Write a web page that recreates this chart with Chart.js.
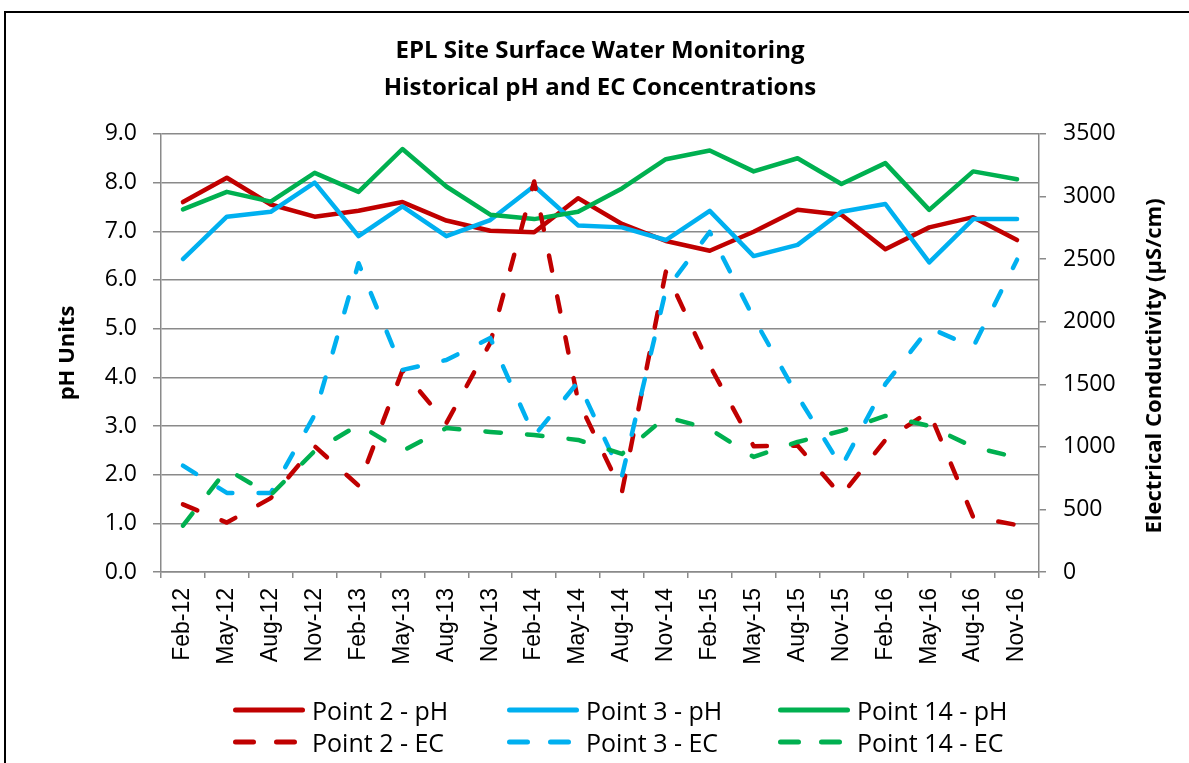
<!DOCTYPE html>
<html>
<head>
<meta charset="utf-8">
<script src="https://cdn.jsdelivr.net/npm/chart.js@4.4.1/dist/chart.umd.min.js"></script>
<style>
  html, body { margin: 0; padding: 0; background: #fff; }
  #wrap { position: relative; width: 1189px; height: 763px; overflow: hidden; }
  #frame { position: absolute; left: 4px; top: 11px; width: 1300px; height: 900px; border: 2px solid #000; box-sizing: border-box; }
  #box { position: absolute; left: 0; top: 0; width: 1189px; height: 763px; }
  .lg { position: absolute; display: flex; align-items: center; height: 30px; font-family: 'Open Sans', sans-serif; font-size: 25px; color: #000; white-space: nowrap; }
  .lg svg { margin-right: 7px; }
</style>
</head>
<body>
<div id="wrap">
  <div id="frame"></div>
  <div id="box"><canvas id="chart"></canvas></div>
  <div id="legend"></div>
</div>
<script>
const titleLines = ['EPL Site Surface Water Monitoring', 'Historical pH and EC Concentrations'];
const leftTitle = 'pH Units';
const rightTitle = 'Electrical Conductivity (\u00B5S/cm)';

const months = ['Feb-12', 'May-12', 'Aug-12', 'Nov-12', 'Feb-13', 'May-13', 'Aug-13', 'Nov-13', 'Feb-14', 'May-14',
                'Aug-14', 'Nov-14', 'Feb-15', 'May-15', 'Aug-15', 'Nov-15', 'Feb-16', 'May-16', 'Aug-16', 'Nov-16'];

// pH (left axis)
const point2pH  = [7.60, 8.10, 7.55, 7.30, 7.42, 7.60, 7.22, 7.01, 6.98, 7.68, 7.15, 6.80, 6.60, 6.99, 7.44, 7.34, 6.63, 7.08, 7.29, 6.82];
const point3pH  = [6.43, 7.30, 7.40, 8.00, 6.90, 7.51, 6.90, 7.23, 7.93, 7.12, 7.08, 6.82, 7.42, 6.49, 6.72, 7.40, 7.56, 6.36, 7.25, 7.25];
const point14pH = [7.45, 7.81, 7.61, 8.20, 7.81, 8.69, 7.92, 7.34, 7.25, 7.40, 7.88, 8.48, 8.66, 8.23, 8.50, 7.97, 8.40, 7.44, 8.23, 8.07];

// EC in uS/cm (right axis)
const point2EC  = [540, 395, 590, 1005, 690, 1610, 1190, 1830, 3120, 1370, 640, 2400, 1650, 1005, 1010, 610, 1055, 1280, 440, 375];
const point3EC  = [850, 632, 632, 1255, 2467, 1614, 1694, 1870, 1087, 1518, 767, 2253, 2717, 2030, 1406, 840, 1502, 1950, 1798, 2495];
const point14EC = [370, 820, 615, 967, 1175, 967, 1150, 1119, 1095, 1055, 943, 1239, 1143, 919, 1039, 1127, 1247, 1167, 999, 915];

const phTicks = { min: 0, max: 9, step: 1 };
const ecTicks = { min: 0, max: 3500, step: 500 };

const red = '#C00000', blue = '#00B0F0', green = '#00B050';
const axisGray = '#8a8a8a';
const dashPattern = [15.5, 26.2];

function series(label, data, color, axis, dashed, order) {
  return {
    label: label,
    data: data,
    yAxisID: axis,
    borderColor: color,
    backgroundColor: color,
    borderWidth: 4.5,
    borderDash: dashed ? dashPattern : [],
    borderCapStyle: 'round',
    borderJoinStyle: 'round',
    pointRadius: 0,
    pointHoverRadius: 0,
    tension: 0,
    fill: false,
    order: order
  };
}

// both axis titles read bottom-to-top, so they are drawn here
const axisTitles = {
  id: 'axisTitles',
  afterDraw(chart) {
    const { ctx, chartArea: a } = chart;
    const mid = (a.top + a.bottom) / 2;
    ctx.save();
    ctx.font = 'bold 22px "Open Sans"';
    ctx.fillStyle = '#000';
    ctx.textAlign = 'center';
    ctx.textBaseline = 'middle';
    ctx.translate(a.left - 93, mid);
    ctx.rotate(-Math.PI / 2);
    ctx.fillText(leftTitle, 0, 0);
    ctx.restore();
    ctx.save();
    ctx.font = 'bold 22px "Open Sans"';
    ctx.fillStyle = '#000';
    ctx.textAlign = 'center';
    ctx.textBaseline = 'middle';
    ctx.translate(a.right + 116, mid + 13);
    ctx.rotate(-Math.PI / 2);
    ctx.fillText(rightTitle, 0, 0);
    ctx.restore();
  }
};

const tickFont = { family: 'Open Sans', size: 23 };

const chart = new Chart(document.getElementById('chart').getContext('2d'), {
  type: 'line',
  data: {
    labels: months,
    datasets: [
      series('Point 2 - pH', point2pH, red, 'yPH', false, 6),
      series('Point 3 - pH', point3pH, blue, 'yPH', false, 5),
      series('Point 14 - pH', point14pH, green, 'yPH', false, 4),
      series('Point 2 - EC', point2EC, red, 'yEC', true, 3),
      series('Point 3 - EC', point3EC, blue, 'yEC', true, 2),
      series('Point 14 - EC', point14EC, green, 'yEC', true, 1)
    ]
  },
  options: {
    responsive: true,
    maintainAspectRatio: false,
    animation: false,
    events: [],
    layout: { padding: { top: 0, bottom: 73, left: 0, right: 0 } },
    plugins: {
      legend: { display: false },
      tooltip: { enabled: false },
      title: {
        display: true,
        text: titleLines,
        fullSize: false,
        color: '#000',
        font: { family: 'Open Sans', size: 24, weight: 'bold', lineHeight: 1.54 },
        padding: { top: 33, bottom: 27 }
      }
    },
    scales: {
      x: {
        type: 'category',
        offset: true,
        grid: { offset: true, drawOnChartArea: false, drawTicks: true, tickLength: 6, color: axisGray, lineWidth: 1.5 },
        border: { display: true, color: axisGray, width: 1.5 },
        ticks: {
          autoSkip: false, minRotation: 90, maxRotation: 90, padding: 10, color: '#000',
          font: { family: 'Liberation Sans', size: 23 }
        },
        afterFit(s) { s.height = 118; }
      },
      yPH: {
        position: 'left',
        min: phTicks.min,
        max: phTicks.max,
        ticks: {
          stepSize: phTicks.step, padding: 16, color: '#000', font: tickFont,
          callback: v => v.toFixed(1)
        },
        grid: { color: axisGray, lineWidth: 1.5, tickLength: 8 },
        border: { display: true, color: axisGray, width: 1.5 },
        afterFit(s) { s.width = 161; }
      },
      yEC: {
        position: 'right',
        min: ecTicks.min,
        max: ecTicks.max,
        ticks: {
          stepSize: ecTicks.step, padding: 17, color: '#000', font: tickFont,
          callback: v => String(v)
        },
        grid: { drawOnChartArea: false, color: axisGray, lineWidth: 1.5, tickLength: 7 },
        border: { display: true, color: axisGray, width: 1.5 },
        afterFit(s) { s.width = 150; }
      }
    }
  },
  plugins: [axisTitles]
});

// legend: 3 columns x 2 rows, built from the datasets
const legendCols = [233, 507, 778];
const legendRows = [710, 742];
const legendEl = document.getElementById('legend');
chart.data.datasets.forEach((ds, i) => {
  const item = document.createElement('div');
  item.className = 'lg';
  item.style.left = legendCols[i % 3] + 'px';
  item.style.top = (legendRows[Math.floor(i / 3)] - 15) + 'px';
  const dash = ds.borderDash.length ? 'stroke-dasharray="18 23"' : '';
  item.innerHTML =
    '<svg width="72" height="10"><line x1="2.5" y1="5" x2="69.5" y2="5" stroke="' + ds.borderColor +
    '" stroke-width="5" stroke-linecap="round" ' + dash + '/></svg><span>' + ds.label + '</span>';
  legendEl.appendChild(item);
});
</script>
</body>
</html>
